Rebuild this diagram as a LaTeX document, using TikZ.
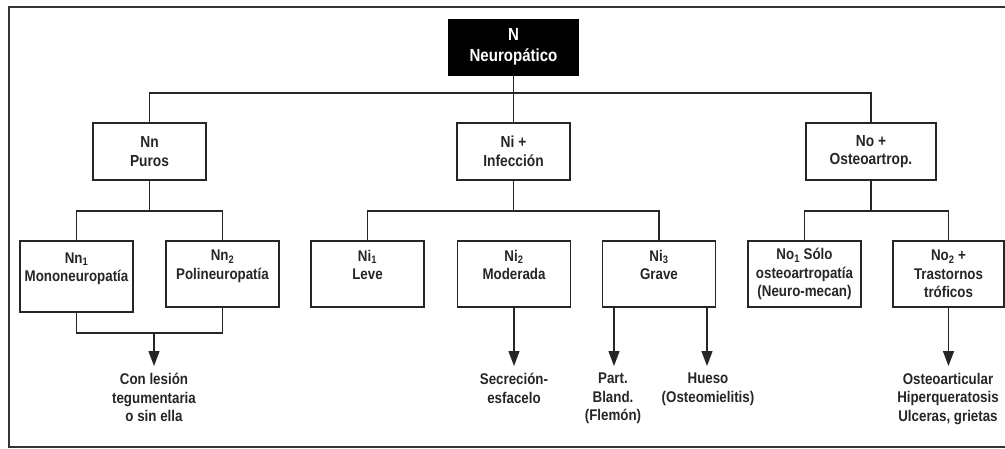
\documentclass[tikz,border=0pt]{standalone}
\usepackage{fontspec}
\setmainfont{Liberation Sans}[FakeStretch=0.86]
\usetikzlibrary{arrows.meta}
\begin{document}
\begin{tikzpicture}[x=1pt,y=-1pt,
  box/.style={draw=black!85, line width=1.3pt, fill=white, align=center, inner sep=0pt,
    font=\bfseries\fontsize{16}{18.5}\selectfont, text=black!85,
    minimum width=113pt, minimum height=57pt},
  lvl2/.style={box, minimum height=66pt, font=\bfseries\fontsize{15.5}{18.5}\selectfont},
  topbox/.style={fill=black, draw=black, text=white, align=center, inner sep=0pt,
    font=\bfseries\fontsize{17.5}{21}\selectfont, minimum width=130pt, minimum height=56pt},
  conn/.style={draw=black!85, line width=1.3pt},
  arr/.style={conn, -{Triangle[length=15pt,width=11pt]}},
  lbl/.style={align=center, anchor=north, inner sep=0pt,
    font=\bfseries\fontsize{15.5}{18.5}\selectfont, text=black!85},
  frame/.style={draw=black!80, line width=2pt}]
\useasboundingbox (0,0) rectangle (1005,448);
\draw[frame] (1005,7) -- (9,7) -- (9,447) -- (1005,447);

% top
\node[topbox] (N) at (513.5,47) {N\\Neuropático};

% level 1
\node[box] (Nn) at (149.5,151.5) {Nn\\Puros};
\node[box] (Ni) at (513.5,151.5) {Ni +\\Infección};
\node[box, minimum width=130pt] (No) at (871,151.5) {No +\\Osteoartrop.};

% level 2
\node[lvl2, minimum height=71pt] (Nn1) at (76.5,276.5) {Nn\textsubscript{1}\\Mononeuropatía\\\phantom{x}};
\node[lvl2] (Nn2) at (222.5,274) {Nn\textsubscript{2}\\Polineuropatía\\\phantom{x}};
\node[lvl2] (Ni1) at (367.5,274) {Ni\textsubscript{1}\\Leve\\\phantom{x}};
\node[lvl2] (Ni2) at (514,274) {Ni\textsubscript{2}\\Moderada\\\phantom{x}};
\node[lvl2] (Ni3) at (659,274) {Ni\textsubscript{3}\\Grave\\\phantom{x}};
\node[lvl2] (No1) at (804.5,274) {No\textsubscript{1} Sólo\\osteoartropatía\\(Neuro-mecan)};
\node[lvl2, minimum width=111pt] (No2) at (948.5,274) {No\textsubscript{2} +\\Trastornos\\tróficos};

% connectors level 0-1
\coordinate (b0) at (513.5,93);
\draw[conn] (N.south) -- (Ni.north);
\draw[conn] (Nn.north) |- (b0) -| (No.north);

% connectors level 1-2
\coordinate (bNn) at (149.5,211);
\coordinate (bNi) at (513.5,211);
\coordinate (bNo) at (871,211);
\draw[conn] (Nn.south) -- (bNn);
\draw[conn] (Nn1.north) |- (bNn) -| (Nn2.north);
\draw[conn] (Ni.south) -- (bNi);
\draw[conn] (Ni1.north) |- (bNi) -| (Ni3.north);
\draw[conn] (No.south) -- (bNo);
\draw[conn] (No1.north) |- (bNo) -| (No2.north);

% merge and arrows
\coordinate (mNn) at (154,333);
\draw[conn] (Nn1.south) |- (mNn) -| (Nn2.south);
\coordinate (tip1) at (154,366);
\coordinate (tip2) at (514,366);
\coordinate (tip3) at (614,366);
\coordinate (tip4) at (707,366);
\coordinate (tip5) at (948.5,366);
\draw[arr] (mNn) -- (tip1);
\draw[arr] (Ni2.south) -- (tip2);
\draw[arr] (tip3 |- Ni3.south) -- (tip3);
\draw[arr] (tip4 |- Ni3.south) -- (tip4);
\draw[arr] (No2.south) -- (tip5);

% labels
\node[lbl] (t1) at (154,373) {Con lesión\\tegumentaria\\o sin ella};
\node[lbl] (t2) at (514,373) {Secreción-\\esfacelo};
\node[lbl] (t3) at (613,373) {Part.\\Bland.\\(Flemón)};
\node[lbl] (t4) at (708,373) {Hueso\\(Osteomielitis)};
\node[lbl] (t5) at (948,373) {Osteoarticular\\Hiperqueratosis\\Ulceras, grietas};
\end{tikzpicture}
\end{document}
